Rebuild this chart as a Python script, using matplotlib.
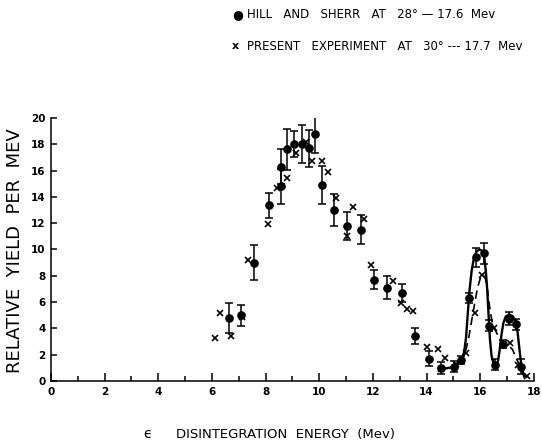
import matplotlib.pyplot as plt
from matplotlib.ticker import MultipleLocator
import numpy as np

# Hill and Sherr, 28 deg, 17.6 Mev (points with error bars)
hs_e = [6.62, 7.09, 7.58, 8.13, 8.56, 8.56, 8.81, 9.07, 9.34, 9.60, 9.85,
        10.09, 10.56, 11.05, 11.55, 12.04, 12.54, 13.07, 13.57, 14.09, 14.54,
        15.02, 15.28, 15.57, 15.84, 16.14, 16.32, 16.55, 16.84, 17.08, 17.33, 17.53]
hs_y = [4.8, 5.0, 9.0, 13.35, 14.8, 16.3, 17.6, 18.0, 18.0, 17.7, 18.8,
        14.9, 13.0, 11.8, 11.5, 7.7, 7.1, 6.7, 3.4, 1.7, 1.0,
        1.1, 1.6, 6.3, 9.4, 9.7, 4.2, 1.25, 2.8, 4.75, 4.3, 1.1]
hs_err = [1.15, 0.8, 1.35, 0.95, 1.35, 1.35, 1.55, 1.0, 1.45, 1.4, 1.5,
          1.45, 1.2, 1.05, 1.1, 0.7, 0.9, 0.7, 0.6, 0.55, 0.45,
          0.45, 0.3, 0.4, 0.7, 0.8, 0.4, 0.4, 0.3, 0.5, 0.4, 0.6]

# present experiment, 30 deg, 17.7 Mev (crosses)
px_e = [6.12, 6.31, 6.72, 7.13, 7.34, 8.10, 8.41, 8.79, 9.13, 9.50, 9.71,
        10.10, 10.33, 10.64, 11.02, 11.24, 11.65, 11.93, 12.73, 13.05, 13.28,
        13.50, 14.03, 14.44, 14.54, 14.68, 15.10, 15.45, 15.80, 16.05, 16.50,
        17.12, 17.41, 17.76]
px_y = [3.25, 5.15, 3.45, 4.9, 9.2, 11.95, 14.65, 15.45, 17.3, 18.2, 16.75,
        16.7, 15.9, 13.9, 11.05, 13.2, 12.3, 8.85, 7.6, 5.9, 5.5,
        5.35, 2.6, 2.4, 0.9, 1.75, 1.3, 2.1, 5.2, 8.05, 4.0,
        2.85, 1.2, 0.35]

# smooth curves drawn through the two sets near the top of the spectrum
solid_e = [14.45, 14.7, 14.95, 15.15, 15.3, 15.4, 15.47, 15.53, 15.6, 15.68,
           15.76, 15.86, 15.97, 16.07, 16.15, 16.21, 16.26, 16.31, 16.36, 16.42,
           16.5, 16.58, 16.66, 16.72, 16.79, 16.86, 16.95, 17.08, 17.2, 17.3,
           17.38, 17.44, 17.5, 17.56, 17.63]
solid_y = [0.95, 0.95, 1.05, 1.25, 1.6, 2.2, 3.3, 5.0, 6.9, 8.4,
           9.3, 9.85, 10.0, 9.9, 9.4, 8.3, 6.9, 5.0, 3.2, 1.9,
           1.3, 1.2, 1.5, 2.3, 3.5, 4.4, 4.9, 5.05, 4.95, 4.6,
           3.9, 2.8, 1.7, 0.9, 0.35]
dash_e = [15.2, 15.35, 15.47, 15.57, 15.68, 15.8, 15.9, 16.0, 16.1, 16.19,
          16.27, 16.35, 16.43, 16.55, 16.7, 16.88, 17.05, 17.2, 17.35, 17.48,
          17.62, 17.8]
dash_y = [1.4, 1.8, 2.4, 3.3, 4.6, 6.0, 7.1, 7.8, 8.1, 7.8,
          6.9, 5.6, 4.6, 3.9, 3.3, 2.85, 2.7, 2.4, 1.7, 1.1,
          0.55, 0.15]

plt.rcParams['font.family'] = 'DejaVu Sans'
fig = plt.figure(figsize=(5.42, 4.47), dpi=100)
ax = fig.add_axes([0.0941, 0.1477, 0.891, 0.5885])

ax.plot(solid_e, solid_y, '-', color='black', lw=1.7, zorder=2)
ax.plot(dash_e, dash_y, '--', color='black', lw=1.2, dashes=(5, 3), zorder=2)
ax.errorbar(hs_e, hs_y, yerr=hs_err, fmt='o', color='black', ms=5.2,
            elinewidth=1.1, capsize=2.6, capthick=1.1, zorder=3)
ax.plot(px_e, px_y, 'x', color='black', ms=4.2, mew=1.2, zorder=3)

ax.set_xlim(0, 18)
ax.set_ylim(0, 20)
ax.spines['top'].set_visible(False)
ax.spines['right'].set_visible(False)
ax.spines['left'].set_linewidth(1.1)
ax.spines['bottom'].set_linewidth(1.1)
ax.xaxis.set_major_locator(MultipleLocator(2))
ax.xaxis.set_minor_locator(MultipleLocator(1))
ax.yaxis.set_major_locator(MultipleLocator(2))
ax.tick_params(axis='x', which='major', direction='in', length=6, width=1.1,
               labelsize=7.5, pad=4)
ax.tick_params(axis='x', which='minor', direction='in', length=3.5, width=1.1)
ax.tick_params(axis='y', which='major', direction='in', length=4, width=1.1,
               labelsize=7.5, pad=4)
for lab in ax.get_xticklabels() + ax.get_yticklabels():
    lab.set_fontweight('bold')

# axis titles, spaced out like hand lettering
fig.text(0.264, 0.029, '\u03f5', fontsize=10, ha='left', va='center')
fig.text(0.325, 0.029, 'DISINTEGRATION  ENERGY  (Mev)', fontsize=9.5,
         ha='left', va='center')
fig.text(0.027, 0.44, 'RELATIVE  YIELD  PER  MEV', fontsize=13,
         rotation=90, ha='center', va='center')

# key above the plot
fig.text(0.428, 0.967, '\u25cf', fontsize=9, ha='left', va='center')
fig.text(0.456, 0.967, 'HILL   AND   SHERR   AT   28\u00b0 \u2014 17.6  Mev',
         fontsize=8.5, ha='left', va='center')
fig.text(0.428, 0.897, 'x', fontsize=8, fontweight='bold', ha='left', va='center')
fig.text(0.456, 0.897, 'PRESENT   EXPERIMENT   AT   30\u00b0 --- 17.7  Mev',
         fontsize=8.5, ha='left', va='center')

fig.savefig('out.png', dpi=100)
